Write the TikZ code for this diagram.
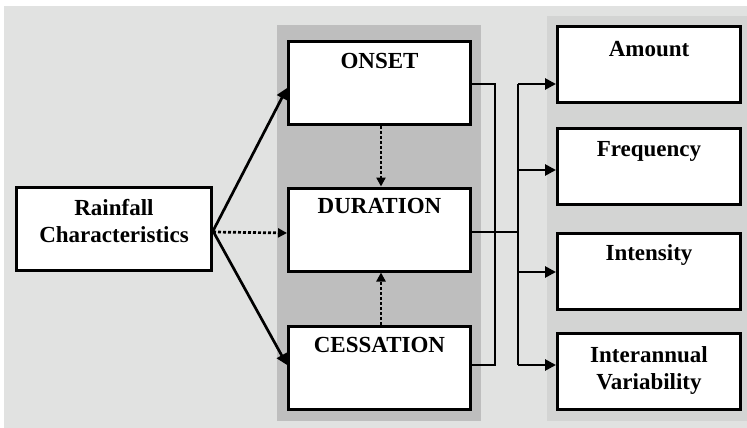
\documentclass[tikz,border=0pt]{standalone}
\usepackage{fontspec}
\setmainfont{Liberation Serif}
\usetikzlibrary{arrows.meta}
\definecolor{outerbg}{RGB}{225,226,225}
\definecolor{midpanel}{RGB}{190,190,190}
\definecolor{rightpanel}{RGB}{211,212,211}
\begin{document}
\begin{tikzpicture}[x=1pt,y=-1pt,
  box/.style={draw=black, line width=3pt, fill=white, rectangle, inner sep=0pt},
  wide/.style={box, minimum width=182pt, minimum height=83pt},
  narrow/.style={box, minimum width=183pt, minimum height=76pt},
  lbl/.style={font=\fontsize{23}{27}\selectfont\bfseries, align=center, inner sep=0pt, anchor=north},
  link/.style={line width=2.7pt, line join=miter},
  arr/.style={link, -{Triangle[length=11pt,width=11pt]}},
  dotarr/.style={line width=2.7pt, dash pattern=on 3pt off 2pt, -{Triangle[length=9pt,width=9pt]}}
]
\useasboundingbox (0,0) rectangle (747,428);
\fill[white] (0,0) rectangle (747,428);
% panels
\fill[outerbg] (4,6) rectangle (747,428);
\fill[midpanel] (277,25) rectangle (481,421);
\fill[rightpanel] (547,16) rectangle (747,421);

% boxes
\node[box, minimum width=195pt, minimum height=83pt] (rain) at (114,229) {};
\node[wide] (onset) at (379.5,83) {};
\node[wide] (dur) at (379.5,229.5) {};
\node[wide] (cess) at (379.5,368) {};
\node[narrow] (amount) at (649,64.5) {};
\node[narrow] (freq) at (649,166) {};
\node[narrow] (inten) at (649,271) {};
\node[narrow] (inter) at (649,371.5) {};

% labels, set at the top of each box
\node[lbl] (rainT) at ([yshift=-13pt]rain.north) {Rainfall\\Characteristics};
\node[lbl] (onsetT) at ([yshift=-13pt]onset.north) {ONSET};
\node[lbl] (durT) at ([yshift=-12pt]dur.north) {DURATION};
\node[lbl] (cessT) at ([yshift=-12pt]cess.north) {CESSATION};
\node[lbl] (amountT) at ([yshift=-16pt]amount.north) {Amount};
\node[lbl] (freqT) at ([yshift=-15pt]freq.north) {Frequency};
\node[lbl] (intenT) at ([yshift=-13pt]inten.north) {Intensity};
\node[lbl] (interT) at ([yshift=-14pt]inter.north) {Interannual\\Variability};

% bend points of the collector lines
\coordinate (colA) at (495,84);
\coordinate (colB) at (495,365);
\coordinate (busTop) at (518,84);
\coordinate (busBot) at (518,365);
\coordinate (busF) at (518,170);
\coordinate (busI) at (518,272);
\coordinate (busD) at (518,232);

% from the source box
\draw[arr] ([yshift=-2pt]rain.east) -- ([yshift=-5pt]onset.west);
\draw[arr] ([yshift=-2pt]rain.east) -- ([yshift=3pt]cess.west);
\draw[dotarr] ([yshift=-3pt]rain.east) -- ([yshift=-3.5pt]dur.west);

% between the phase boxes
\draw[dotarr] ([xshift=1.5pt]onset.south) -- ([xshift=1.5pt]dur.north);
\draw[dotarr] ([xshift=1.5pt]cess.north) -- ([xshift=1.5pt]dur.south);

% collector lines
\draw[link] ([yshift=-1pt]onset.east) -- (colA) -- (colB) -- ([yshift=3pt]cess.east);
\draw[link] ([yshift=-2.5pt]dur.east) -- (busD);
\draw[link] (busTop) -- (busBot);

% outputs
\draw[arr] (busTop) -- (amount.west |- busTop);
\draw[arr] (busF) -- (freq.west |- busF);
\draw[arr] (busI) -- (inten.west |- busI);
\draw[arr] (busBot) -- (inter.west |- busBot);
\end{tikzpicture}
\end{document}
